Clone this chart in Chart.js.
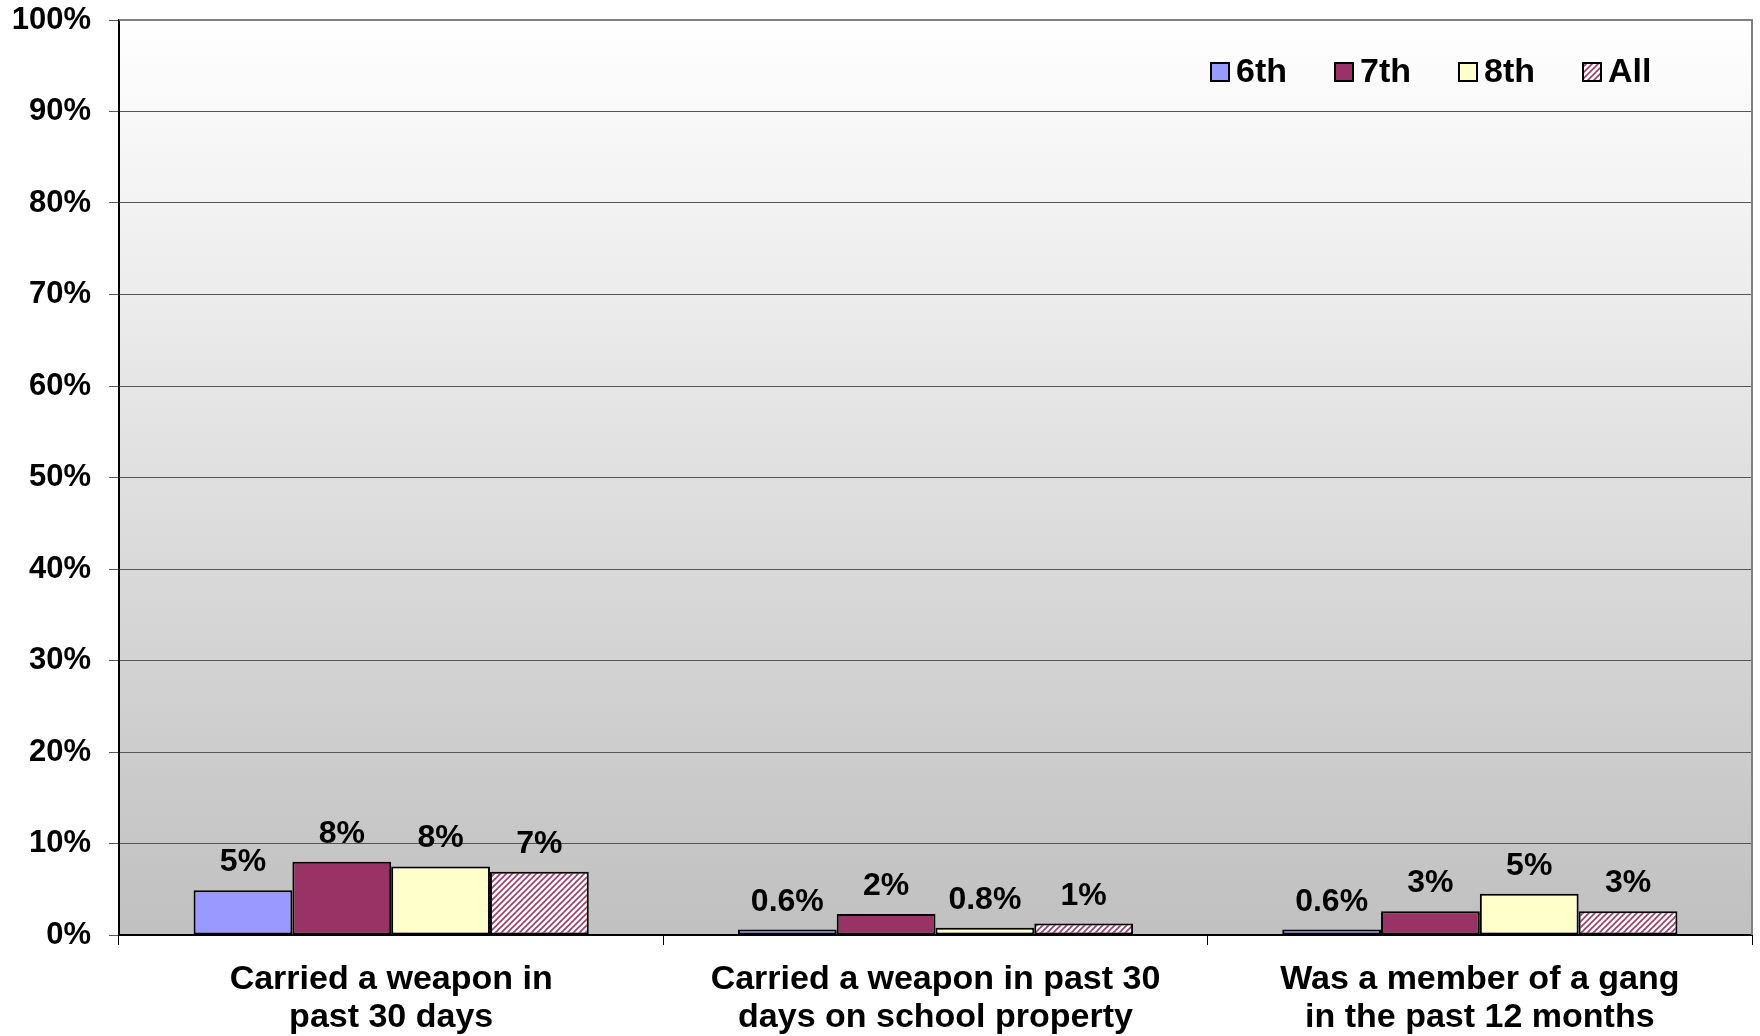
<!DOCTYPE html>
<html>
<head>
<meta charset="utf-8">
<script src="https://cdn.jsdelivr.net/npm/chart.js@4.4.0/dist/chart.umd.min.js"></script>
<style>
  body { margin: 0; background: #fff; }
  #wrap { width: 1760px; height: 1036px; position: relative; }
</style>
</head>
<body>
<div id="wrap"><canvas id="myChart"></canvas></div>
<script>
let categorias = [
  ['Carried a weapon in', 'past 30 days'],
  ['Carried a weapon in past 30', 'days on school property'],
  ['Was a member of a gang', 'in the past 12 months']
];
let sexto = [4.9, 0.6, 0.6];
let septimo = [8.0, 2.3, 2.6];
let octavo = [7.5, 0.8, 4.5];
let todos = [6.9, 1.25, 2.6];
let ticksY = [0, 10, 20, 30, 40, 50, 60, 70, 80, 90, 100];

const fuente = "'Liberation Sans', Arial, sans-serif";

// rayado para "All"
function rayado(){
  let c = document.createElement('canvas');
  c.width = 6; c.height = 6;
  let g = c.getContext('2d');
  g.fillStyle = '#fff';
  g.fillRect(0, 0, 6, 6);
  g.strokeStyle = '#a33a66';
  g.lineWidth = 1.6;
  g.beginPath();
  g.moveTo(-1, 7); g.lineTo(7, -1);
  g.moveTo(-1, 1); g.lineTo(1, -1);
  g.moveTo(5, 7); g.lineTo(7, 5);
  g.stroke();
  return g.createPattern(c, 'repeat');
}

function etiqueta(v){
  return (v < 1 ? v.toFixed(1) : Math.round(v)) + '%';
}

const fondo = {
  id: 'fondo',
  beforeDraw(chart){
    let a = chart.chartArea, ctx = chart.ctx;
    let grad = ctx.createLinearGradient(0, a.top, 0, a.bottom);
    grad.addColorStop(0, '#ffffff');
    grad.addColorStop(1, '#c0c0c0');
    ctx.save();
    ctx.fillStyle = grad;
    ctx.fillRect(a.left, a.top, a.right - a.left, a.bottom - a.top);
    ctx.restore();
  },
  beforeDatasetsDraw(chart){
    let a = chart.chartArea, ctx = chart.ctx;
    ctx.save();
    ctx.strokeStyle = '#808080';
    ctx.lineWidth = 2;
    ctx.beginPath();
    ctx.moveTo(a.left, a.top);
    ctx.lineTo(a.right, a.top);
    ctx.lineTo(a.right, a.bottom);
    ctx.stroke();
    ctx.restore();
  }
};

const valores = {
  id: 'valores',
  afterDatasetsDraw(chart){
    let ctx = chart.ctx;
    ctx.save();
    ctx.font = 'bold 32px ' + fuente;
    ctx.fillStyle = '#000';
    ctx.textAlign = 'center';
    ctx.textBaseline = 'alphabetic';
    chart.data.datasets.forEach((ds, i) => {
      chart.getDatasetMeta(i).data.forEach((bar, j) => {
        ctx.fillText(etiqueta(ds.data[j]), bar.x, bar.y - 19);
      });
    });
    ctx.restore();
  }
};

const leyenda = {
  id: 'leyenda',
  afterDraw(chart){
    let ctx = chart.ctx;
    let x = 1211, y = 72;
    ctx.save();
    ctx.font = 'bold 34px ' + fuente;
    ctx.textBaseline = 'middle';
    ctx.textAlign = 'left';
    chart.data.datasets.forEach(ds => {
      ctx.fillStyle = ds.backgroundColor;
      ctx.fillRect(x, y - 9, 18, 18);
      ctx.strokeStyle = '#000';
      ctx.lineWidth = 2;
      ctx.strokeRect(x, y - 9, 18, 18);
      ctx.fillStyle = '#000';
      ctx.fillText(ds.label, x + 25, y + 1);
      x += 25 + ctx.measureText(ds.label).width + 48;
    });
    ctx.restore();
  }
};

let ctx = document.getElementById('myChart').getContext('2d');
let chart = new Chart(ctx, {
  type: 'bar',
  data: {
    labels: categorias,
    datasets: [
      { label: '6th', data: sexto, backgroundColor: '#9999ff' },
      { label: '7th', data: septimo, backgroundColor: '#993366' },
      { label: '8th', data: octavo, backgroundColor: '#ffffcc' },
      { label: 'All', data: todos, backgroundColor: rayado() }
    ].map(d => Object.assign(d, {
      borderColor: '#000',
      borderWidth: 2,
      borderSkipped: false,
      barPercentage: 1,
      categoryPercentage: 0.726
    }))
  },
  options: {
    responsive: true,
    maintainAspectRatio: false,
    animation: false,
    layout: { padding: { left: 12, right: 8, top: 20, bottom: 0 } },
    plugins: { legend: { display: false }, tooltip: { enabled: false } },
    scales: {
      x: {
        afterFit(axis){ axis.height = 101; },
        grid: { drawOnChartArea: false, drawTicks: true, tickLength: 10, color: '#000', offset: true },
        border: { color: '#000', width: 2 },
        ticks: {
          color: '#000',
          padding: 16,
          maxRotation: 0,
          font: { family: fuente, size: 34, weight: 'bold', lineHeight: 1.12 }
        }
      },
      y: {
        min: 0,
        max: 100,
        afterFit(axis){ axis.width = 107; axis.paddingTop = 0; },
        afterBuildTicks(axis){ axis.ticks = ticksY.map(v => ({ value: v })); },
        grid: { color: '#555', lineWidth: 1, tickLength: 10 },
        border: { color: '#000', width: 2 },
        ticks: {
          color: '#000',
          padding: 18,
          callback: v => v + '%',
          font: { family: fuente, size: 31, weight: 'bold' }
        }
      }
    }
  },
  plugins: [fondo, valores, leyenda]
});
</script>
</body>
</html>
